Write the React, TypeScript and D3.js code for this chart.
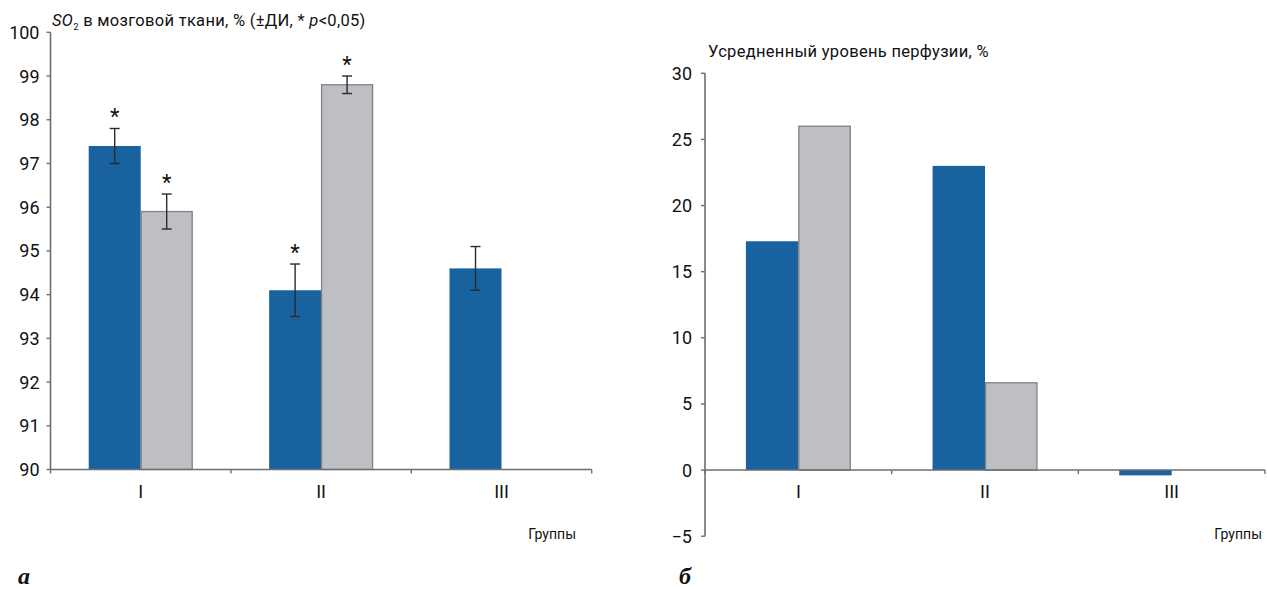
import React from "react";
import * as d3 from "d3";

// Groups and series
const groups = ["I", "II", "III"];
const seriesKeys = ["a", "b"];

// Panel a: SO2 in brain tissue, % (mean with CI)
const so2Blue = [97.4, 94.1, 94.6];
const so2BlueLow = [97.0, 93.5, 94.1];
const so2BlueHigh = [97.8, 94.7, 95.1];
const so2BlueSig = [true, true, false];
const so2Gray: (number | null)[] = [95.9, 98.8, null];
const so2GrayLow: (number | null)[] = [95.5, 98.6, null];
const so2GrayHigh: (number | null)[] = [96.3, 99.0, null];
const so2GraySig = [true, true, false];
const so2Ticks = [90, 91, 92, 93, 94, 95, 96, 97, 98, 99, 100];

// Panel б: averaged perfusion level, %
const perfBlue = [17.3, 23.0, -0.4];
const perfGray: (number | null)[] = [26.0, 6.6, null];
const perfTicks = [-5, 0, 5, 10, 15, 20, 25, 30];

const BLUE = "#18639f";
const GRAY = "#bebfc3";
const GRAY_STROKE = "#808185";
const AXIS = "#6d6e71";
const FONT = "Roboto, 'DejaVu Sans', sans-serif";
const SERIF = "'Liberation Serif', 'DejaVu Serif', serif";

type Bar = { g: string; s: string; v: number; lo?: number | null; hi?: number | null; sig?: boolean };

function PanelA() {
  const x0 = d3.scaleBand().domain(groups).range([50.5, 591.7]);
  const x1 = d3.scaleBand().domain(seriesKeys).range([0, x0.bandwidth()]).paddingOuter(0.735);
  const y = d3.scaleLinear().domain([90, 100]).range([469.5, 32.3]);

  const bars: Bar[] = [];
  groups.forEach((g, i) => {
    bars.push({ g, s: "a", v: so2Blue[i], lo: so2BlueLow[i], hi: so2BlueHigh[i], sig: so2BlueSig[i] });
    const gv = so2Gray[i];
    if (gv != null) bars.push({ g, s: "b", v: gv, lo: so2GrayLow[i], hi: so2GrayHigh[i], sig: so2GraySig[i] });
  });

  const x0l = x0.range()[0];
  const x0r = x0.range()[1];
  const bw = x1.bandwidth();

  return (
    <g>
      {bars.map((b, k) => {
        const bx = (x0(b.g) as number) + (x1(b.s) as number);
        const isBlue = b.s === "a";
        return (
          <rect
            key={"r" + k}
            x={isBlue ? bx : bx + 0.5}
            y={y(b.v)}
            width={isBlue ? bw : bw - 1}
            height={y(90) - y(b.v)}
            fill={isBlue ? BLUE : GRAY}
            stroke={isBlue ? "none" : GRAY_STROKE}
            strokeWidth={1.3}
          />
        );
      })}
      {/* confidence intervals */}
      {bars.map((b, k) => {
        const cx = (x0(b.g) as number) + (x1(b.s) as number) + bw / 2;
        const yt = y(b.hi as number);
        const yb = y(b.lo as number);
        return (
          <g key={"e" + k} stroke="#2b2b2b" strokeWidth={1.4}>
            <line x1={cx} x2={cx} y1={yt} y2={yb} />
            <line x1={cx - 5} x2={cx + 5} y1={yt} y2={yt} />
            <line x1={cx - 5} x2={cx + 5} y1={yb} y2={yb} />
            {b.sig && (
              <text x={cx} y={yt - 4} textAnchor="middle" fontFamily={FONT} fontSize={22} fill="#111" stroke="none">
                *
              </text>
            )}
          </g>
        );
      })}
      {/* y axis */}
      <line x1={x0l} x2={x0l} y1={y(100)} y2={y(90)} stroke={AXIS} strokeWidth={1.6} />
      {so2Ticks.map((t) => (
        <g key={"t" + t}>
          <line x1={x0l - 4} x2={x0l} y1={y(t)} y2={y(t)} stroke={AXIS} strokeWidth={1.4} />
          <text x={39.5} y={y(t)} dy="0.36em" textAnchor="end" fontFamily={FONT} fontSize={18} fill="#111">
            {t}
          </text>
        </g>
      ))}
      {/* x axis */}
      <line x1={x0l} x2={x0r} y1={y(90)} y2={y(90)} stroke={AXIS} strokeWidth={1.6} />
      {[x0l, ...groups.map((g) => (x0(g) as number) + x0.bandwidth())].map((px, k) => (
        <line key={"xt" + k} x1={px} x2={px} y1={y(90)} y2={y(90) + 4} stroke={AXIS} strokeWidth={1.4} />
      ))}
      {groups.map((g) => (
        <text key={"xl" + g} x={(x0(g) as number) + x0.bandwidth() / 2} y={498} textAnchor="middle" fontFamily={FONT} fontSize={18} fill="#111">
          {g}
        </text>
      ))}
      <text x={576} y={539} textAnchor="end" fontFamily={FONT} fontSize={14} fill="#111">
        Группы
      </text>
      <text x={52} y={26} fontFamily={FONT} fontSize={16.5} letterSpacing={0.3} fill="#111">
        <tspan fontStyle="italic">SO</tspan>
        <tspan fontSize={9.5} dy={4}>2</tspan>
        <tspan dy={-4}> в мозговой ткани, % (±ДИ, * </tspan>
        <tspan fontStyle="italic">p</tspan>
        <tspan>&lt;0,05)</tspan>
      </text>
      <text x={18} y={584} fontFamily={SERIF} fontStyle="italic" fontWeight="bold" fontSize={24} fill="#111">
        a
      </text>
    </g>
  );
}

function PanelB() {
  const x0 = d3.scaleBand().domain(groups).range([705, 1265]);
  const x1 = d3.scaleBand().domain(seriesKeys).range([0, x0.bandwidth()]).paddingOuter(0.78);
  const y = d3.scaleLinear().domain([-5, 30]).range([536.2, 73.3]);

  const bars: Bar[] = [];
  groups.forEach((g, i) => {
    bars.push({ g, s: "a", v: perfBlue[i] });
    const gv = perfGray[i];
    if (gv != null) bars.push({ g, s: "b", v: gv });
  });

  const x0l = x0.range()[0];
  const x0r = x0.range()[1];
  const bw = x1.bandwidth();

  return (
    <g>
      {bars.map((b, k) => {
        const bx = (x0(b.g) as number) + (x1(b.s) as number);
        const isBlue = b.s === "a";
        const top = Math.min(y(b.v), y(0));
        const h = Math.abs(y(b.v) - y(0));
        return (
          <rect
            key={"r" + k}
            x={isBlue ? bx : bx + 0.5}
            y={top}
            width={isBlue ? bw : bw - 1}
            height={h}
            fill={isBlue ? BLUE : GRAY}
            stroke={isBlue ? "none" : GRAY_STROKE}
            strokeWidth={1.3}
          />
        );
      })}
      {/* y axis */}
      <line x1={x0l} x2={x0l} y1={y(30)} y2={y(-5)} stroke={AXIS} strokeWidth={1.6} />
      {perfTicks.map((t) => (
        <g key={"t" + t}>
          <line x1={x0l - 4} x2={x0l} y1={y(t)} y2={y(t)} stroke={AXIS} strokeWidth={1.4} />
          <text x={692} y={y(t)} dy="0.36em" textAnchor="end" fontFamily={FONT} fontSize={18} fill="#111">
            {t < 0 ? "\u2212" + Math.abs(t) : t}
          </text>
        </g>
      ))}
      {/* x axis at zero */}
      <line x1={x0l} x2={x0r} y1={y(0)} y2={y(0)} stroke={AXIS} strokeWidth={1.6} />
      {[x0l, ...groups.map((g) => (x0(g) as number) + x0.bandwidth())].map((px, k) => (
        <line key={"xt" + k} x1={px} x2={px} y1={y(0)} y2={y(0) + 4} stroke={AXIS} strokeWidth={1.4} />
      ))}
      {groups.map((g) => (
        <text key={"xl" + g} x={(x0(g) as number) + x0.bandwidth() / 2} y={498} textAnchor="middle" fontFamily={FONT} fontSize={18} fill="#111">
          {g}
        </text>
      ))}
      <text x={1262} y={539} textAnchor="end" fontFamily={FONT} fontSize={14} fill="#111">
        Группы
      </text>
      <text x={708} y={57} fontFamily={FONT} fontSize={16.5} letterSpacing={0.3} fill="#111">
        Усредненный уровень перфузии, %
      </text>
      <text x={679} y={584} fontFamily={SERIF} fontStyle="italic" fontWeight="bold" fontSize={24} fill="#111">
        б
      </text>
    </g>
  );
}

export default function App() {
  return (
    <div style={{ position: "absolute", left: 0, top: 0 }}>
      <svg width={1267} height={589} viewBox="0 0 1267 589" style={{ display: "block", background: "#fff" }}>
        <PanelA />
        <PanelB />
      </svg>
    </div>
  );
}
